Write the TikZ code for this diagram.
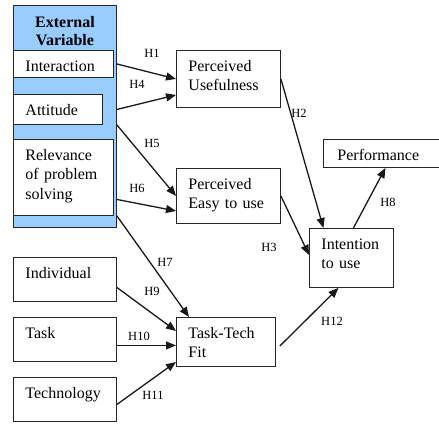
\documentclass[tikz,border=0pt]{standalone}
\usepackage{fontspec}
\setmainfont{Liberation Serif}
\usetikzlibrary{arrows.meta,calc}

\definecolor{extblue}{RGB}{153,204,255}

\tikzset{
	var/.style={draw=black!85, line width=0.9pt, fill=white, anchor=north west, inner ysep=0pt, inner xsep=12pt,
		align=left, text height=21pt, font=\fontsize{16}{19.5}\selectfont},
	hyp/.style={font=\fontsize{12.5}{14}\selectfont, inner sep=1pt},
	link/.style={->, line width=1.3pt, draw=black!90}
}

\begin{document}
\begin{tikzpicture}[x=1pt, y=-1pt, >={Triangle[length=10pt,width=8pt]}]
		\useasboundingbox (0,0) rectangle (439,424);
		
		% external variables
		\node[var, fill=extblue, align=center, text width=79pt, text height=21.7pt, text depth=200.3pt,
			font=\bfseries\fontsize{16}{18.5}\selectfont] (ext)at(13,5) {External\\Variable};
		\node[var, text width=76pt, text depth=6pt] (inter)at(13,50) {Interaction};
		\node[var, text width=65pt, text depth=9pt] (att)at(13,94) {Attitude};
		\node[var, text width=76pt, text depth=55pt] (rel)at(13,139) {Relevance\\of problem\\solving};
		
		\node[var, text width=79pt, text depth=23pt] (ind)at(13,257) {Individual};
		\node[var, text width=79pt, text depth=23pt] (task)at(13,317) {Task};
		\node[var, text width=79pt, text depth=23pt] (tech)at(13,377) {Technology};
		
		\node[var, text width=80pt, text depth=36pt] (pu)at(176,50) {Perceived\\Usefulness};
		\node[var, text width=80pt, text depth=34pt] (peu)at(176,168) {Perceived\\Easy to use};
		\node[var, text width=75pt, text depth=28pt] (ttf)at(176,317) {Task-Tech\\Fit};
		\node[var, text width=60pt, text depth=38pt] (int)at(309,228) {Intention\\to use};
		\node[var, inner xsep=14pt, text width=90pt, text depth=7pt] (perf)at(323,139) {Performance};
		
		\draw[link] (ext.east |- inter.east) -- (pu.west);
		\draw[link] (ext.east |- att.east) -- ([yshift=-16pt]pu.west);
		\draw[link] (ext.east |- att.south) -- (peu.west);
		\draw[link] ($(ext.east |- rel.east)+(0,22)$) -- ([yshift=-15pt]peu.west);
		\draw[link] (ext.east |- rel.south) -- ([xshift=13pt]ttf.north west);
		\draw[link] ([yshift=-8pt]ind.east) -- ([yshift=11pt]ttf.west);
		\draw[link] ([yshift=-6pt]task.east) -- ([yshift=-3.5pt]ttf.west);
		\draw[link] ([yshift=-5pt]tech.east) -- ([yshift=-20pt]ttf.west);
		\draw[link] (pu.east) -- ([xshift=-28pt]int.north);
		\draw[link] (peu.east) -- ([yshift=3pt]int.west);
		\draw[link] ([xshift=2pt]int.north) -- ([xshift=3pt]perf.south);
		\draw[link] ([xshift=4pt,yshift=-4pt]ttf.east) -- ([xshift=-13pt]int.south);
		
		\node[hyp] (h1) at (152,53) {H1};
		\node[hyp] (h4) at (137,84) {H4};
		\node[hyp] (h5) at (152,143) {H5};
		\node[hyp] (h6) at (137,188) {H6};
		\node[hyp] (h7) at (165,262) {H7};
		\node[hyp] (h9) at (152,291) {H9};
		\node[hyp] (h10) at (139,336) {H10};
		\node[hyp] (h11) at (153,395) {H11};
		\node[hyp] (h2) at (299,113) {H2};
		\node[hyp] (h3) at (269,247) {H3};
		\node[hyp] (h8) at (388,202) {H8};
		\node[hyp] (h12) at (332,321) {H12};
		
		\end{tikzpicture}
\end{document}
